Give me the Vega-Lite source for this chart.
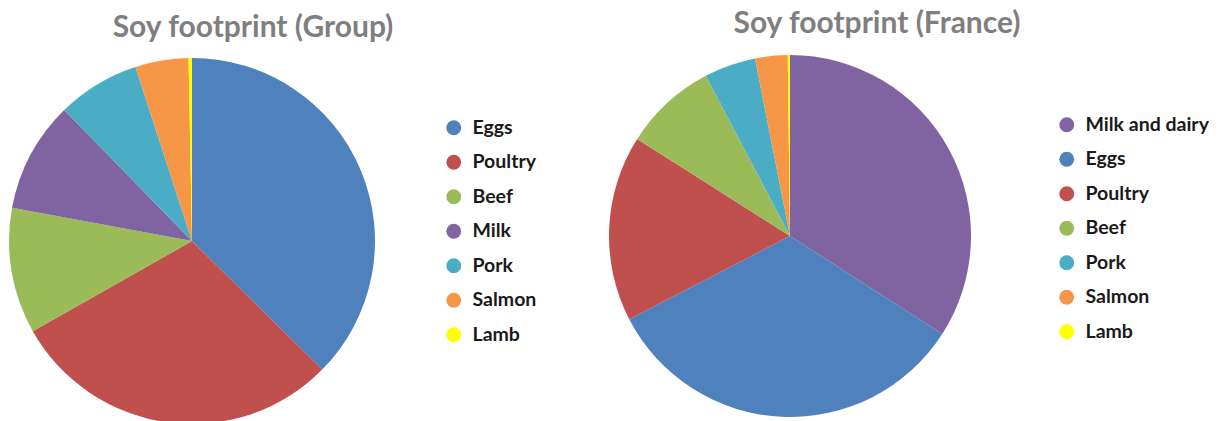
{
  "$schema": "https://vega.github.io/schema/vega-lite/v6.json",
  "padding": {"left": 9, "top": 9, "right": 0, "bottom": 0},
  "background": "white",
  "datasets": {
    "soy": [
      {"chart": "Group", "rank": 1, "product": "Eggs", "share": 37.4},
      {"chart": "Group", "rank": 2, "product": "Poultry", "share": 29.4},
      {"chart": "Group", "rank": 3, "product": "Beef", "share": 11.1},
      {"chart": "Group", "rank": 4, "product": "Milk", "share": 9.8},
      {"chart": "Group", "rank": 5, "product": "Pork", "share": 7.3},
      {"chart": "Group", "rank": 6, "product": "Salmon", "share": 4.7},
      {"chart": "Group", "rank": 7, "product": "Lamb", "share": 0.3},
      {"chart": "France", "rank": 1, "product": "Milk and dairy", "share": 34.1},
      {"chart": "France", "rank": 2, "product": "Eggs", "share": 33.3},
      {"chart": "France", "rank": 3, "product": "Poultry", "share": 16.6},
      {"chart": "France", "rank": 4, "product": "Beef", "share": 8.3},
      {"chart": "France", "rank": 5, "product": "Pork", "share": 4.6},
      {"chart": "France", "rank": 6, "product": "Salmon", "share": 2.9},
      {"chart": "France", "rank": 7, "product": "Lamb", "share": 0.2}
    ]
  },
  "spacing": 72,
  "resolve": {"scale": {"color": "independent"}, "legend": {"color": "independent"}},
  "hconcat": [
    {
      "data": {"name": "soy"},
      "transform": [{"filter": "datum.chart === 'Group'"}],
      "width": 366,
      "height": 366,
      "title": {"text": "Soy footprint (Group)", "anchor": "middle", "frame": "bounds", "dx": -20, "offset": 15},
      "mark": {"type": "arc", "outerRadius": 183},
      "encoding": {
        "theta": {"field": "share", "type": "quantitative", "stack": true},
        "order": {"field": "rank", "type": "quantitative"},
        "color": {
          "field": "product", "type": "nominal", "title": null,
          "scale": {"domain": ["Eggs", "Poultry", "Beef", "Milk", "Pork", "Salmon", "Lamb"],
                    "range": ["#4F81BD", "#C0504D", "#9BBB59", "#8064A2", "#4BACC6", "#F79646", "#FFFF00"]},
          "legend": {"orient": "none", "legendX": 435, "legendY": 60}
        }
      }
    },
    {
      "data": {"name": "soy"},
      "transform": [{"filter": "datum.chart === 'France'"}],
      "width": 362,
      "height": 356,
      "title": {"text": "Soy footprint (France)", "anchor": "middle", "frame": "bounds", "dx": -32, "offset": 16},
      "mark": {"type": "arc", "outerRadius": 181},
      "encoding": {
        "theta": {"field": "share", "type": "quantitative", "stack": true},
        "order": {"field": "rank", "type": "quantitative"},
        "color": {
          "field": "product", "type": "nominal", "title": null,
          "scale": {"domain": ["Milk and dairy", "Eggs", "Poultry", "Beef", "Pork", "Salmon", "Lamb"],
                    "range": ["#8064A2", "#4F81BD", "#C0504D", "#9BBB59", "#4BACC6", "#F79646", "#FFFF00"]},
          "legend": {"orient": "none", "legendX": 448, "legendY": 57}
        }
      }
    }
  ],
  "config": {
    "view": {"stroke": null},
    "title": {"font": "Lato", "fontSize": 30, "fontWeight": "bold", "color": "#7F7F7F"},
    "legend": {
      "padding": 0,
      "symbolType": "circle",
      "symbolSize": 220,
      "symbolStrokeWidth": 0,
      "labelFont": "Lato",
      "labelFontSize": 19.5,
      "labelFontWeight": "bold",
      "labelColor": "#1a1a1a",
      "labelOffset": 9,
      "rowPadding": 13.5,
      "labelLimit": 300
    }
  }
}
